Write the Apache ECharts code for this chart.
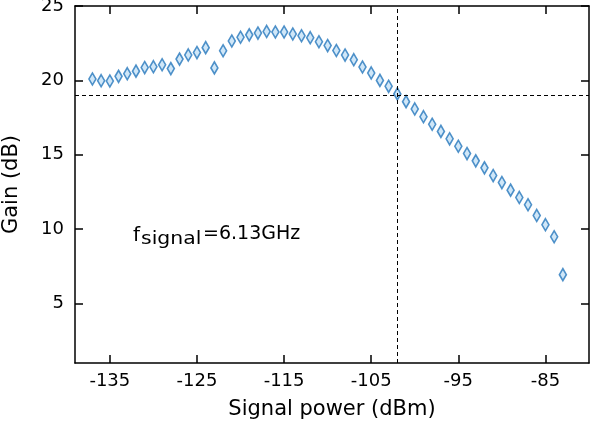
<!DOCTYPE html>
<html>
<head>
<meta charset="utf-8">
<script src="https://cdn.jsdelivr.net/npm/echarts@6/dist/echarts.min.js"></script>
<style>html,body{margin:0;padding:0;background:#fff;}#c{width:591px;height:424px;}</style>
</head>
<body>
<div id="c"></div>
<script>
const signalPower = [-137,-136,-135,-134,-133,-132,-131,-130,-129,-128,-127,-126,-125,-124,-123,-122,-121,-120,-119,-118,-117,-116,-115,-114,-113,-112,-111,-110,-109,-108,-107,-106,-105,-104,-103,-102,-101,-100,-99,-98,-97,-96,-95,-94,-93,-92,-91,-90,-89,-88,-87,-86,-85,-84,-83];
const gain = [20.09,19.98,19.96,20.27,20.45,20.62,20.86,20.92,21.05,20.79,21.43,21.71,21.87,22.2,20.84,21.99,22.65,22.9,23.06,23.18,23.29,23.25,23.25,23.12,23.0,22.87,22.6,22.34,22.01,21.7,21.39,20.9,20.5,20.0,19.6,19.09,18.57,18.08,17.56,17.05,16.57,16.07,15.57,15.08,14.59,14.12,13.6,13.13,12.62,12.13,11.64,10.92,10.3,9.49,6.94];
const xTicks = [-135,-125,-115,-105,-95,-85];
const yTicks = [5,10,15,20,25];
const refPower = -102;
const refGain = 19;

const font = 'DejaVu Sans';
const data = signalPower.map((x,i)=>[x,gain[i]]);
const axisLineStyle = {color:'#000', width:1.5};
function xAx(pos, showLabel){
  return {type:'value', position:pos, min:-139, max:-80,
    axisLine:{show:true, onZero:false, lineStyle:axisLineStyle},
    axisTick:{show:true, inside:true, length:8, lineStyle:{color:'#000',width:1.5}, customValues:xTicks},
    axisLabel:{show:showLabel, customValues:xTicks, color:'#000', fontFamily:font, fontSize:18, margin:9},
    splitLine:{show:false},
    name: showLabel ? 'Signal power (dBm)' : '',
    nameLocation:'middle', nameGap:36,
    nameTextStyle:{color:'#000', fontFamily:font, fontSize:21}};
}
function yAx(pos, showLabel){
  return {type:'value', position:pos, min:1, max:25,
    axisLine:{show:true, onZero:false, lineStyle:axisLineStyle},
    axisTick:{show:true, inside:true, length:8, lineStyle:{color:'#000',width:1.5}, customValues:yTicks},
    axisLabel:{show:showLabel, customValues:yTicks, color:'#000', fontFamily:font, fontSize:18, margin:11},
    splitLine:{show:false},
    name: showLabel ? 'Gain (dB)' : '',
    nameLocation:'middle', nameGap:53,
    nameTextStyle:{color:'#000', fontFamily:font, fontSize:21}};
}
const chart = echarts.init(document.getElementById('c'), null, {renderer:'canvas'});
chart.setOption({
  animation:false,
  backgroundColor:'#fff',
  grid:{left:75, right:2, top:6, bottom:61, containLabel:false, outerBoundsMode:'none'},
  xAxis:[xAx('bottom',true), xAx('top',false)],
  yAxis:[yAx('left',true), yAx('right',false)],
  series:[{
    type:'scatter', xAxisIndex:0, yAxisIndex:0,
    data:data, symbol:'diamond', symbolSize:[7,12],
    itemStyle:{color:'#c4e1f6', borderColor:'#2577bb', borderWidth:1.7},
    markLine:{silent:true, symbol:'none', animation:false,
      lineStyle:{color:'#000', type:[4,3], width:1},
      label:{show:false},
      data:[{xAxis:refPower},{yAxis:refGain}]}
  }],
  graphic:[
    {type:'text', left:133, top:226, style:{text:'f', fontFamily:font, fontSize:20, fill:'#000'}},
    {type:'text', left:141, top:231, scaleX:1.2, style:{text:'signal', fontFamily:font, fontSize:17, fill:'#000'}},
    {type:'text', left:203, top:225, style:{text:'=6.13GHz', fontFamily:font, fontSize:19, fill:'#000'}}
  ]
});
</script>
</body>
</html>
